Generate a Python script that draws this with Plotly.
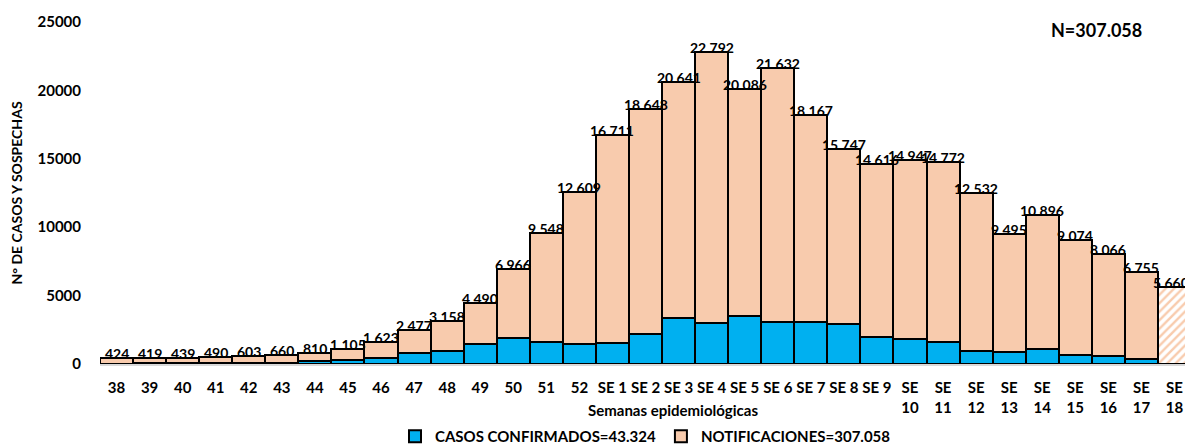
import plotly.graph_objects as go

weeks = ["38", "39", "40", "41", "42", "43", "44", "45", "46", "47", "48", "49", "50", "51", "52",
         "SE 1", "SE 2", "SE 3", "SE 4", "SE 5", "SE 6", "SE 7", "SE 8", "SE 9",
         "SE<br>10", "SE<br>11", "SE<br>12", "SE<br>13", "SE<br>14", "SE<br>15", "SE<br>16",
         "SE<br>17", "SE<br>18"]

notificaciones = [424, 419, 439, 490, 603, 660, 810, 1105, 1623, 2477, 3158, 4490, 6966, 9548,
                  12609, 16711, 18648, 20641, 22792, 20086, 21632, 18167, 15747, 14616, 14947,
                  14772, 12532, 9495, 10896, 9074, 8066, 6755, 5660]

confirmados = [30, 40, 50, 60, 70, 80, 200, 320, 470, 780, 930, 1450, 1900, 1600, 1450,
               1550, 2200, 3350, 3000, 3480, 3040, 3080, 2900, 1950, 1850, 1600, 960, 890,
               1130, 670, 570, 360, None]

hatch = [""] * 32 + ["/"]

PEACH = "#F8CBAD"
BLUE = "#00B0F0"
FONT = "Lato"

fig = go.Figure()
fig.add_trace(go.Bar(
    x=weeks, y=notificaciones, name="NOTIFICACIONES=307.058",
    marker=dict(color=PEACH, line=dict(color="black", width=2),
                pattern=dict(shape=hatch, fgcolor=PEACH, bgcolor="white",
                             fillmode="replace", size=6, solidity=0.4)),
))
fig.add_trace(go.Bar(
    x=weeks, y=confirmados, name="CASOS CONFIRMADOS=43.324",
    marker=dict(color=BLUE, line=dict(color="black", width=2)),
))

n = len(notificaciones)
for i, v in enumerate(notificaciones):
    fig.add_annotation(x=i, y=v, text=f"{v:,}".replace(",", "."), showarrow=False,
                       yanchor="bottom", yshift=-6, xshift=-3 if i == n - 1 else 0,
                       font=dict(family=FONT, size=14, color="black", weight="bold"))

fig.add_annotation(xref="paper", yref="paper", x=0.913, y=1.0, text="N=307.058",
                   showarrow=False, xanchor="center", yanchor="middle", yshift=-8,
                   font=dict(family=FONT, size=18, color="black", weight="bold"))

fig.add_annotation(xref="paper", yref="paper", x=0.525, y=-0.1345,
                   text="Semanas epidemiológicas", showarrow=False,
                   xanchor="center", yanchor="middle",
                   font=dict(family=FONT, size=15, color="black", weight="bold"))

fig.update_layout(
    width=1185, height=440,
    margin=dict(l=92, r=2, t=14, b=84, autoexpand=False),
    barmode="overlay", bargap=0,
    plot_bgcolor="white", paper_bgcolor="white",
    font=dict(family=FONT, color="black"),
    showlegend=True,
    legend=dict(orientation="h", x=0.5, xanchor="center", y=-0.212, yanchor="middle",
                traceorder="reversed", itemwidth=30,
                font=dict(family=FONT, size=15, color="black", weight="bold")),
    xaxis=dict(type="category", showline=True, linecolor="#D9D9D9", linewidth=2, showgrid=False,
               tickangle=0, range=[-0.5, len(weeks) - 0.5], automargin=False,
               tickfont=dict(family=FONT, size=15, color="black", weight="bold"),
               ticklabelstandoff=9, fixedrange=True),
    yaxis=dict(range=[0, 25000], showgrid=False, zeroline=False, showline=False,
               automargin=False,
               tickvals=[0, 5000, 10000, 15000, 20000, 25000],
               ticktext=["0", "5000", "10000", "15000", "20000", "25000"],
               tickfont=dict(family=FONT, size=15, color="black", weight="bold"),
               ticklabelstandoff=18,
               title=dict(text="N° DE CASOS Y SOSPECHAS", standoff=14,
                          font=dict(family=FONT, size=14, color="black", weight="bold"))),
)

fig.write_html("out.html")
